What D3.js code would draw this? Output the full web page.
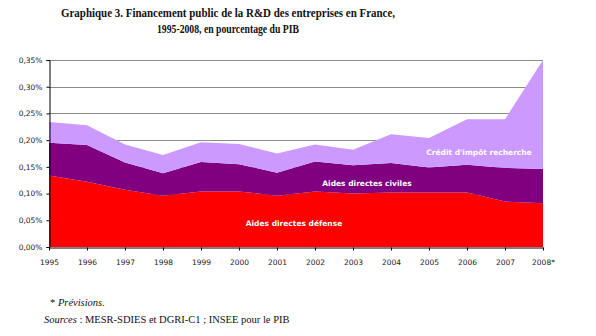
<!DOCTYPE html>
<html lang="fr">
<head>
<meta charset="utf-8">
<title>Financement public de la R&amp;D des entreprises</title>
<script src="https://cdn.jsdelivr.net/npm/d3@7"></script>
<style>
  body { margin: 0; background: #fff; }
  svg { display: block; }
  .tick text { font-family: "DejaVu Sans", Verdana, sans-serif; font-size: 7.5px; fill: #222; }
  .title { font-family: "Liberation Serif", "Times New Roman", serif; font-weight: bold; font-size: 13px; fill: #111; }
  .note { font-family: "Liberation Serif", "Times New Roman", serif; font-size: 10.5px; fill: #111; }
  .inlabel { font-family: "DejaVu Sans", Verdana, sans-serif; font-weight: bold; font-size: 7.5px; fill: #fff; }
</style>
</head>
<body>
<script>
// years on the x axis
var years = ["1995","1996","1997","1998","1999","2000","2001","2002","2003","2004","2005","2006","2007","2008*"];

// share of GDP (%), stacked bottom to top
var defense = [0.134, 0.122, 0.107, 0.096, 0.104, 0.104, 0.096, 0.104, 0.100, 0.102, 0.102, 0.102, 0.085, 0.082];
var civiles = [0.061, 0.069, 0.051, 0.042, 0.055, 0.051, 0.043, 0.056, 0.053, 0.055, 0.047, 0.052, 0.063, 0.064];
var cir     = [0.039, 0.037, 0.034, 0.034, 0.037, 0.038, 0.036, 0.032, 0.029, 0.054, 0.055, 0.085, 0.091, 0.204];

var yTicks = [0, 0.05, 0.10, 0.15, 0.20, 0.25, 0.30, 0.35];

var seriesKeys = ["defense", "civiles", "cir"];
var seriesNames = ["Aides directes défense", "Aides directes civiles", "Crédit d'impôt recherche"];
var colors = ["#ff0000", "#800080", "#cc99ff"];

var W = 596, H = 336;
var margin = {left: 49, right: 53, top: 60, bottom: 89};

var rows = years.map(function(y, i) {
  return {year: y, defense: defense[i], civiles: civiles[i], cir: cir[i]};
});

var svg = d3.select("body").append("svg")
  .attr("width", W)
  .attr("height", H);

var x = d3.scalePoint()
  .domain(years)
  .range([margin.left, W - margin.right]);

var y = d3.scaleLinear()
  .domain([0, 0.35])
  .range([H - margin.bottom, margin.top]);

// title
svg.append("text").attr("class", "title")
  .attr("x", 228).attr("y", 17).attr("text-anchor", "middle")
  .attr("textLength", 334).attr("lengthAdjust", "spacingAndGlyphs")
  .text("Graphique 3. Financement public de la R&D des entreprises en France,");
svg.append("text").attr("class", "title")
  .attr("x", 228).attr("y", 33).attr("text-anchor", "middle")
  .attr("textLength", 142).attr("lengthAdjust", "spacingAndGlyphs")
  .text("1995-2008, en pourcentage du PIB");

// gridlines
svg.append("g")
  .selectAll("line")
  .data(yTicks.slice(1))
  .join("line")
  .attr("x1", margin.left).attr("x2", W - margin.right)
  .attr("y1", function(d) { return Math.round(y(d)) + 0.5; })
  .attr("y2", function(d) { return Math.round(y(d)) + 0.5; })
  .attr("stroke", "#8c8c8c")
  .attr("stroke-width", 1);

// stacked areas
var stack = d3.stack().keys(seriesKeys);
var layers = stack(rows);

var area = d3.area()
  .x(function(d) { return x(d.data.year); })
  .y0(function(d) { return y(d[0]); })
  .y1(function(d) { return y(d[1]); });

svg.append("g")
  .selectAll("path")
  .data(layers)
  .join("path")
  .attr("fill", function(d, i) { return colors[i]; })
  .attr("d", area);

// axes
var fmt = function(d) { return d3.format(".2f")(d).replace(".", ",") + "%"; };

svg.append("g")
  .attr("transform", "translate(" + (margin.left + 0.5) + ",0)")
  .call(d3.axisLeft(y).tickValues(yTicks).tickFormat(fmt).tickSize(3).tickPadding(4))
  .call(function(g) { g.selectAll("line, path").attr("stroke", "#000"); });

svg.append("g")
  .attr("transform", "translate(0," + (H - margin.bottom + 0.5) + ")")
  .call(d3.axisBottom(x).tickSize(3).tickPadding(9).tickSizeOuter(0))
  .call(function(g) { g.selectAll("line, path").attr("stroke", "#000"); });

// series labels inside the areas
var labelPos = [
  {i: 0, at: "2001", dx: 17, v: 0.039},
  {i: 1, at: "2003", dx: 14, v: 0.114},
  {i: 2, at: "2006", dx: 12, v: 0.173}
];
svg.append("g")
  .selectAll("text")
  .data(labelPos)
  .join("text")
  .attr("class", "inlabel")
  .attr("text-anchor", "middle")
  .attr("x", function(d) { return x(d.at) + d.dx; })
  .attr("y", function(d) { return y(d.v); })
  .text(function(d) { return seriesNames[d.i]; });

// footnotes
var note1 = svg.append("text").attr("class", "note").attr("x", 50).attr("y", 306);
note1.append("tspan").text("* ");
note1.append("tspan").attr("font-style", "italic").text("Prévisions.");
var note2 = svg.append("text").attr("class", "note").attr("x", 44).attr("y", 323);
note2.append("tspan").attr("font-style", "italic").text("Sources");
note2.append("tspan").text(" : MESR-SDIES et DGRI-C1 ; INSEE pour le PIB");
</script>
</body>
</html>
